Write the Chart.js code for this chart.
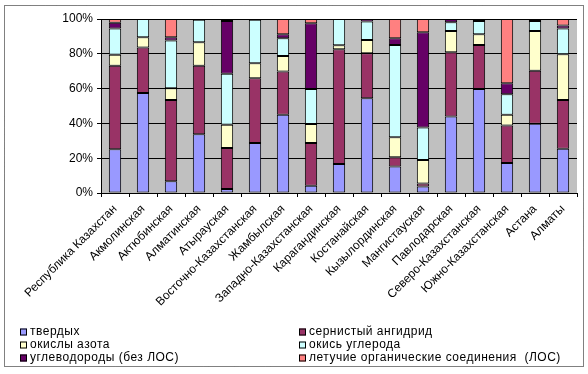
<!DOCTYPE html>
<html>
<head>
<meta charset="utf-8">
<script src="https://cdn.jsdelivr.net/npm/chart.js@4/dist/chart.umd.min.js"></script>
<style>
  body { margin: 0; background: #fff; }
  #wrap { width: 588px; height: 374px; }
</style>
</head>
<body>
<div id="wrap"><canvas id="emissions-chart" width="588" height="374"></canvas></div>
<script>
const regions = [
  "Республика Казахстан", "Акмолинская", "Актюбинская", "Алматинская", "Атырауская",
  "Восточно-Казахстанская", "Жамбылская", "Западно-Казахстанская", "Карагандинская",
  "Костанайская", "Кызылординская", "Мангистауская", "Павлодарская",
  "Северо-Казахстанская", "Южно-Казахстанская", "Астана", "Алматы"
];

// shares in percent
const solids = [25.2, 57.4, 6.7, 33.8, 2.3, 28.7, 44.9, 4.2, 16.6, 54.5, 15.3, 3.8, 44, 59.7, 17.2, 39.8, 25.4];
const sulphur = [48, 26.2, 46.8, 39.4, 23.5, 37.3, 24.9, 24.5, 66, 25.8, 5.2, 1.6, 36.9, 25.4, 21.6, 30.4, 28.1];
const nitrogen = [6.3, 5.9, 6.7, 13.4, 13.4, 8.6, 9, 10.9, 2.3, 7.7, 11.6, 13.5, 12.2, 6.1, 6.1, 22.9, 26.2];
const carbonMonoxide = [15, 10.5, 27.4, 13, 29.4, 25, 10.1, 20.1, 15.1, 10.5, 53, 18.8, 5, 7.7, 11.9, 5.8, 14.9];
const hydrocarbons = [3.4, 0, 1.9, 0.4, 30.3, 0.4, 2.3, 37.8, 0, 1.5, 3.8, 54.7, 1.9, 1.1, 6.3, 1.1, 1.6];
const voc = [2.1, 0, 10.5, 0, 1.1, 0, 8.8, 2.5, 0, 0, 11.1, 7.6, 0, 0, 36.9, 0, 3.8];

const yTicks = [0, 20, 40, 60, 80, 100];

const ct = document.getElementById("emissions-chart");

const plotBackground = {
  id: "plotBackground",
  beforeDraw(chart) {
    const { ctx, chartArea: a } = chart;
    ctx.save();
    ctx.fillStyle = "#c0c0c0";
    ctx.fillRect(a.left, a.top, a.right - a.left, a.bottom - a.top);
    ctx.restore();
  },
  afterDraw(chart) {
    const ctx = chart.ctx;
    ctx.save();
    // outer frame
    ctx.strokeStyle = "#000";
    ctx.lineWidth = 1;
    ctx.setLineDash([1, 1]);
    ctx.strokeRect(4.5, 5.5, 579, 361);
    ctx.setLineDash([]);
    // legend in two columns
    ctx.font = "12px 'Liberation Sans', Arial, sans-serif";
    ctx.letterSpacing = "0.5px";
    ctx.textBaseline = "middle";
    chart.data.datasets.forEach((ds, i) => {
      const col = i % 2;
      const row = Math.floor(i / 2);
      const x = col === 0 ? 20 : 299;
      const y = 332 + row * 13;
      ctx.fillStyle = ds.backgroundColor;
      ctx.fillRect(x, y - 3.5, 7, 7);
      ctx.strokeStyle = "#000";
      ctx.strokeRect(x + 0.5, y - 3.5 + 0.5, 6, 6);
      ctx.fillStyle = "#000";
      ctx.fillText(ds.label, x + 10, y);
    });
    ctx.restore();
  }
};

new Chart(ct, {
  type: "bar",
  data: {
    labels: regions,
    datasets: [
      { label: "твердых", data: solids, backgroundColor: "#9999ff" },
      { label: "сернистый ангидрид", data: sulphur, backgroundColor: "#993366" },
      { label: "окислы азота", data: nitrogen, backgroundColor: "#ffffcc" },
      { label: "окись углерода", data: carbonMonoxide, backgroundColor: "#ccffff" },
      { label: "углеводороды (без ЛОС)", data: hydrocarbons, backgroundColor: "#660066" },
      { label: "летучие органические соединения  (ЛОС)", data: voc, backgroundColor: "#ff8080" },
    ].map((ds) => ({
      ...ds,
      borderColor: "#000",
      borderWidth: 1,
      borderSkipped: false,
      categoryPercentage: 1,
      barPercentage: 0.44,
    })),
  },
  options: {
    responsive: false,
    animation: false,
    layout: { padding: { top: 19, right: 11, left: 0, bottom: 0 } },
    plugins: {
      legend: { display: false },
      tooltip: { enabled: false },
    },
    scales: {
      x: {
        stacked: true,
        afterFit: (s) => { s.height = 181; },
        grid: {
          display: true,
          offset: true,
          drawOnChartArea: false,
          color: "#000",
          tickLength: 4,
        },
        border: { color: "#000", width: 1 },
        ticks: {
          color: "#000",
          autoSkip: false,
          maxRotation: 45,
          minRotation: 45,
          padding: 5,
          font: { family: "'Liberation Sans', Arial, sans-serif", size: 12 },
        },
      },
      y: {
        stacked: true,
        min: 0,
        max: 100,
        afterFit: (s) => { s.width = 101; },
        afterBuildTicks: (s) => { s.ticks = yTicks.map((v) => ({ value: v })); },
        grid: { color: "#000", tickLength: 4 },
        border: { color: "#000", width: 1 },
        ticks: {
          color: "#000",
          padding: 4,
          callback: (v) => v + "%",
          font: { family: "'Liberation Sans', Arial, sans-serif", size: 12 },
        },
      },
    },
  },
  plugins: [plotBackground],
});
</script>
</body>
</html>
